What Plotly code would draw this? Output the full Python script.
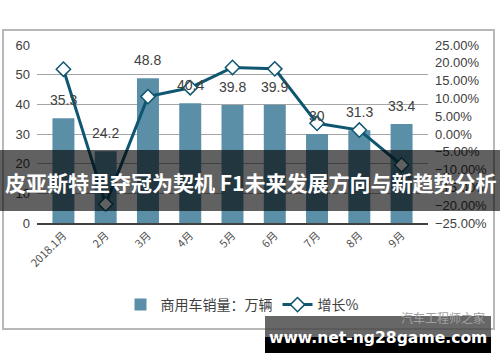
import plotly.graph_objects as go

months = ["2018.1月", "2月", "3月", "4月", "5月", "6月", "7月", "8月", "9月"]
sales = [35.3, 24.2, 48.8, 40.4, 39.8, 39.9, 30, 31.3, 33.4]
growth = [18.2, -19.7, 10.5, 13.0, 18.7, 18.3, 3.0, 1.1, -8.7]
sales_label = ["35.3", "24.2", "48.8", "40.4", "39.8", "39.9", "30", "31.3", "33.4"]

W, H = 500, 362
L, R, T, B = 37, 428, 45, 223


def px(x):
    return (x - L) / (R - L)


def py(y):
    return (B - y) / (B - T)


fig = go.Figure()
fig.add_trace(go.Bar(
    x=months, y=sales, name="商用车销量：万辆",
    marker=dict(color="#5b8fa8", line=dict(width=0)),
))
fig.add_trace(go.Scatter(
    x=months, y=growth, name="增长%", yaxis="y2", mode="lines+markers",
    line=dict(color="#0f5670", width=3),
    marker=dict(symbol="diamond", size=11, color="white",
                line=dict(color="#0f5670", width=1.5)),
))

shapes = [
    dict(type="rect", xref="paper", yref="paper", x0=px(3), x1=px(494), y0=py(329), y1=py(30),
         line=dict(color="#b8b8b8", width=2), fillcolor="rgba(0,0,0,0)", layer="below"),
    dict(type="rect", xref="paper", yref="paper", x0=px(0), x1=px(500), y0=py(211), y1=py(150),
         line=dict(width=0), fillcolor="rgba(0,0,0,0.62)", layer="above"),
    dict(type="rect", xref="paper", yref="paper", x0=px(265), x1=px(491), y0=py(337), y1=py(316),
         line=dict(width=0), fillcolor="rgba(70,70,70,0.82)", layer="above"),
    dict(type="rect", xref="paper", yref="paper", x0=px(265), x1=px(491), y0=py(353), y1=py(337),
         line=dict(width=0), fillcolor="#000000", layer="above"),
]

annotations = []
for m, v, s in zip(months, sales, sales_label):
    annotations.append(dict(x=m, y=v, xref="x", yref="y", text=s, showarrow=False,
                            xanchor="center", yanchor="bottom", yshift=8,
                            font=dict(size=14, color="#404040", family="Liberation Sans, Arial")))

annotations += [
    dict(text="汽车工程师之家", xref="paper", yref="paper", x=px(443), y=py(317),
         xanchor="center", yanchor="middle",
         showarrow=False, font=dict(size=12, color="#a0a0a0", family="Noto Sans CJK SC")),
    dict(text="<b>皮亚斯特里夺冠为契机 F1未来发展方向与新趋势分析</b>", xref="paper", yref="paper",
         x=px(250), y=py(182), xanchor="center", yanchor="middle", showarrow=False,
         font=dict(size=21, color="white", family="Noto Sans CJK SC")),
    dict(text="<b>www.net-ng28game.com</b>", xref="paper", yref="paper",
         x=px(378), y=py(338), xanchor="center", yanchor="middle", showarrow=False,
         font=dict(size=15.6, color="white", family="DejaVu Sans")),
]

fig.update_layout(
    width=W, height=H,
    margin=dict(l=L, r=W - R, t=T, b=H - B),
    paper_bgcolor="white", plot_bgcolor="white",
    bargap=0.48,
    showlegend=True,
    legend=dict(orientation="h", x=px(242), xanchor="center", y=py(305), yanchor="middle",
                font=dict(size=14, color="#404040", family="Noto Sans CJK SC"),
                bgcolor="rgba(0,0,0,0)", itemwidth=30, tracegroupgap=0),
    xaxis=dict(tickangle=-45, showgrid=False, showline=True, linecolor="#404040", linewidth=1.5,
               tickfont=dict(size=11, color="#505050", family="Noto Sans CJK SC"),
               ticks="", fixedrange=True, automargin=False),
    yaxis=dict(range=[0, 60], dtick=10, showgrid=True, gridcolor="#a6a6a6", gridwidth=1,
               zeroline=False, showline=False, ticks="", ticklabelstandoff=6, automargin=False,
               tickfont=dict(size=13, color="#404040", family="Liberation Sans, Arial")),
    yaxis2=dict(range=[-25, 25], dtick=5, overlaying="y", side="right", showgrid=False,
                zeroline=False, showline=False, ticks="", tickformat=".2f", ticksuffix="%",
                ticklabelstandoff=6, automargin=False,
                tickfont=dict(size=13, color="#404040", family="Liberation Sans, Arial")),
    shapes=shapes, annotations=annotations,
)

fig.write_html("out.html")
